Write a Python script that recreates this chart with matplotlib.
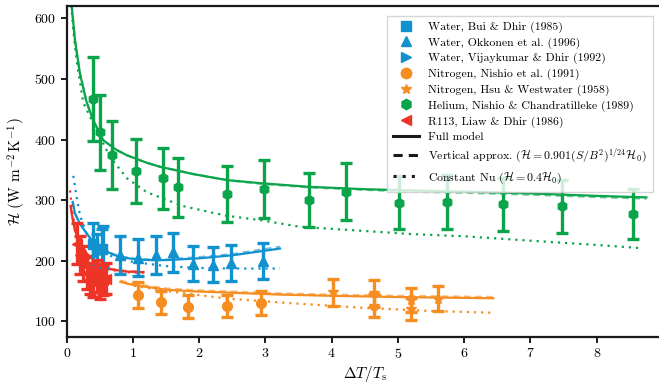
import matplotlib
matplotlib.use("Agg")
import matplotlib.pyplot as plt
from matplotlib.lines import Line2D
import numpy as np

plt.rcParams.update({
    "font.family": "serif",
    "font.serif": ["cmr10", "DejaVu Serif"],
    "mathtext.fontset": "cm",
    "axes.formatter.use_mathtext": True,
    "axes.unicode_minus": False,
})

BLUE = "#1192cf"
ORANGE = "#f58d20"
GREEN = "#0aa44a"
RED = "#ee3427"

# ---- experimental data (x = dT/Ts, y = H in W m^-2 K^-1) ----
bui_x = [0.40, 0.53]
bui_y = [228, 220]

okkonen_x = [0.55, 0.81, 1.08, 1.35, 1.60, 1.91, 2.21, 2.48, 2.97]
okkonen_y = [223, 210, 205, 209, 214, 195, 193, 196, 199]

vijay_x = [0.45]
vijay_y = [212]

nishio_n2_x = [1.07, 1.43, 1.83, 2.42, 2.94]
nishio_n2_y = [143, 131, 124, 125, 130]

hsu_x = [4.02, 4.64, 4.64, 5.20, 5.20, 5.60]
hsu_y = [148, 146, 126, 135, 121, 137]

helium_x = [0.40, 0.51, 0.69, 1.05, 1.45, 1.68, 2.42, 2.98, 3.66,
            4.21, 5.01, 5.74, 6.58, 7.47, 8.55]
helium_y = [467, 412, 374, 348, 336, 321, 310, 319, 300,
            314, 296, 297, 293, 290, 277]

r113_x = [0.15, 0.20, 0.25, 0.30, 0.35, 0.40, 0.45, 0.50, 0.55, 0.60]
r113_y = [228, 210, 195, 180, 170, 165, 175, 160, 168, 170]

rel_err = 0.15

# ---- model curves ----
he_full_x = [0.075, 0.125, 0.20, 0.30, 0.40, 0.55, 0.75, 0.91, 1.2, 1.41, 1.91,
             2.42, 2.92, 3.65, 4.5, 5.2, 6.04, 7.0, 8.0, 8.75]
he_full_y = [621, 564, 509, 462, 432, 399, 383, 374, 362, 355, 343,
             333, 328, 322, 318, 316, 314, 311, 307, 304.5]
he_vert_y = [621, 564, 509, 462, 432, 399, 383, 374, 362, 355, 343,
             333, 327, 321, 317, 314, 312, 309, 305, 302.5]
he_nu_x = [0.07, 0.10, 0.15, 0.25, 0.40, 0.65, 0.91, 1.21, 1.76, 2.42, 2.92,
           3.52, 4.5, 5.2, 6.04, 7.0, 8.0, 8.70]
he_nu_y = [621, 580, 530, 461, 427, 372, 336, 313, 290, 274, 267,
           256, 249, 244, 240, 233, 226, 220.5]

w_full_x = [0.09, 0.125, 0.20, 0.30, 0.40, 0.55, 0.80, 1.06, 1.26, 1.51,
            2.01, 2.51, 3.22]
w_full_y = [297, 278, 261, 245, 231, 217, 206, 202, 201, 201,
            204, 209, 220]
w_vert_y = [297, 278, 261, 245, 231, 217, 207, 203, 202, 202,
            206, 211, 223]
w_nu_x = [0.10, 0.15, 0.20, 0.30, 0.45, 0.70, 1.00, 1.50, 2.00, 2.50, 3.22]
w_nu_y = [340, 305, 275, 245, 222, 206, 198, 191, 188, 187, 187]

n2_full_x = [0.81, 1.0, 1.51, 2.0, 2.51, 3.22, 4.0, 5.0, 6.44]
n2_full_y = [165, 160, 152, 149, 147, 144, 142, 140, 138]
n2_vert_y = [167, 162, 154, 151, 149, 146, 144, 142, 140]
n2_nu_x = [0.81, 1.0, 1.5, 2.42, 3.22, 4.5, 5.5, 6.44]
n2_nu_y = [166, 159, 150, 137.5, 131, 122, 117, 114]

r_full_x = [0.06, 0.075, 0.125, 0.20, 0.30, 0.45, 0.65, 0.90, 1.16]
r_full_y = [290, 278, 250, 231, 212, 197, 186, 182, 181]
r_vert_y = [290, 278, 250, 231, 212, 198, 187, 183, 182]
r_nu_x = [0.05, 0.08, 0.125, 0.20, 0.30, 0.45, 0.65, 0.90, 1.16]
r_nu_y = [316, 285, 255, 228, 208, 194, 185, 181, 180]

fig = plt.figure(figsize=(6.59, 3.84), dpi=100)
ax = fig.add_axes([0.1012, 0.1224, 0.9048, 0.8628])

lw = 1.6
for col, fx, fy, vy, nx, ny in [
        (GREEN, he_full_x, he_full_y, he_vert_y, he_nu_x, he_nu_y),
        (BLUE, w_full_x, w_full_y, w_vert_y, w_nu_x, w_nu_y),
        (ORANGE, n2_full_x, n2_full_y, n2_vert_y, n2_nu_x, n2_nu_y),
        (RED, r_full_x, r_full_y, r_vert_y, r_nu_x, r_nu_y)]:
    ax.plot(fx, fy, color=col, lw=lw, zorder=2)
    ax.plot(fx, vy, color=col, lw=lw, ls=(0, (3, 2)), alpha=0.6, zorder=2)
    ax.plot(nx, ny, color=col, lw=lw, ls=(0, (1, 2.2)), zorder=2)

datasets = [
    (bui_x, bui_y, BLUE, "s", "Water, Bui & Dhir (1985)"),
    (okkonen_x, okkonen_y, BLUE, "^", "Water, Okkonen et al. (1996)"),
    (vijay_x, vijay_y, BLUE, ">", "Water, Vijaykumar & Dhir (1992)"),
    (nishio_n2_x, nishio_n2_y, ORANGE, "o", "Nitrogen, Nishio et al. (1991)"),
    (hsu_x, hsu_y, ORANGE, "*", "Nitrogen, Hsu & Westwater (1958)"),
    (helium_x, helium_y, GREEN, "h", "Helium, Nishio & Chandratilleke (1989)"),
    (r113_x, r113_y, RED, "<", "R113, Liaw & Dhir (1986)"),
]

handles = []
for xs, ys, col, mk, lab in datasets:
    ys = np.asarray(ys, dtype=float)
    ax.errorbar(xs, ys, yerr=rel_err * ys, fmt=mk, color=col, ms=7,
                elinewidth=2.4, capsize=4, capthick=2.4, zorder=3)
    handles.append(Line2D([], [], ls="none", marker=mk, color=col, ms=7.5,
                          label=lab))

handles.append(Line2D([], [], color="#1a1a1a", lw=2.2, label="Full model"))
handles.append(Line2D([], [], color="#1a1a1a", lw=2.2, ls=(0, (3, 2)),
                      label=r"Vertical approx. ($\mathcal{H}=0.901(S/B^2)^{1/24}\mathcal{H}_0$)"))
handles.append(Line2D([], [], color="#1a1a1a", lw=2.2, ls=(0, (1, 2)),
                      label=r"Constant Nu ($\mathcal{H}=0.4\mathcal{H}_0$)"))

leg = ax.legend(handles=handles, loc="upper right", bbox_to_anchor=(0.993, 0.988),
                fontsize=8.5, frameon=True, fancybox=False, framealpha=0.8,
                edgecolor="#cccccc", handlelength=2.2, borderpad=0.5,
                labelspacing=0.37)
leg.get_frame().set_linewidth(1.0)

ax.set_xlim(0, 9)
ax.set_ylim(74, 621)
ax.set_xticks(range(0, 9))
ax.set_yticks([100, 200, 300, 400, 500, 600])
ax.set_xlabel(r"$\Delta T/T_\mathrm{s}$", fontsize=11, labelpad=2)
ax.set_ylabel(r"$\mathcal{H}$ (W m$^{-2}\,$K$^{-1}$)", fontsize=11, labelpad=4)

for side in ("left", "bottom", "top"):
    ax.spines[side].set_linewidth(1.6)
    ax.spines[side].set_color("#1a1a1a")
ax.spines["right"].set_visible(False)
ax.tick_params(direction="out", length=4, width=1.4, labelsize=10,
               color="#1a1a1a", top=False, right=False)

fig.savefig("out.png", dpi=100)
